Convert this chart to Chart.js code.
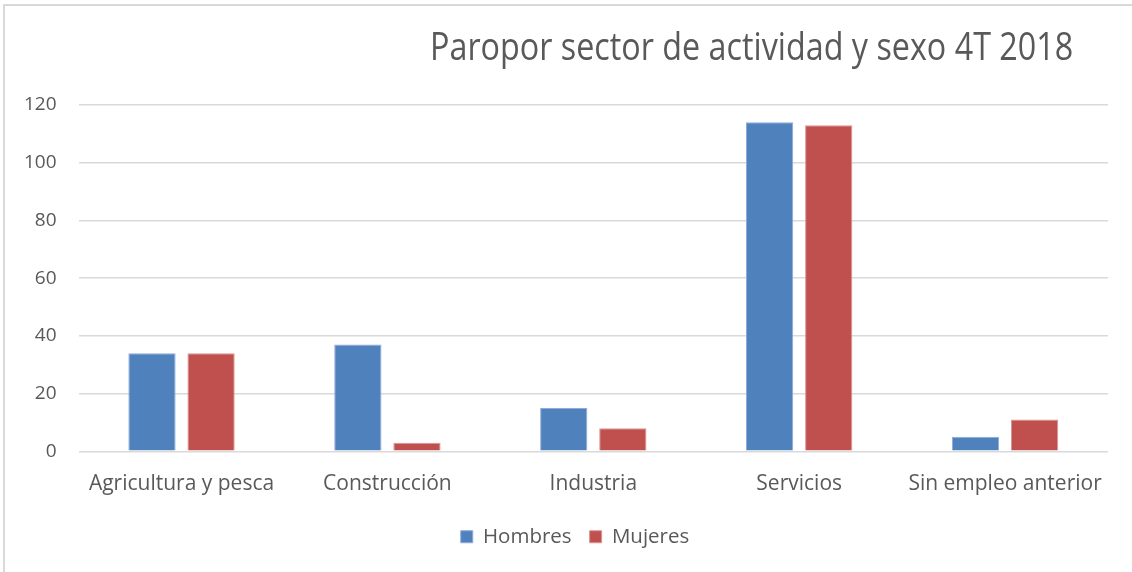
<!DOCTYPE html>
<html lang="es">
<head>
<meta charset="utf-8">
<title>Paro por sector de actividad y sexo 4T 2018</title>
<script src="https://cdn.jsdelivr.net/npm/chart.js@4"></script>
<style>
    html, body {
        margin: 0;
        padding: 0;
        background: #ffffff;
    }
    #contenedor {
        position: relative;
        width: 1132px;
        height: 572px;
        overflow: hidden;
    }
    #marco {
        position: absolute;
        left: 3px;
        top: 4px;
        width: 1140px;
        height: 580px;
        border-left: 2px solid #d9d9d9;
        border-top: 2px solid #d9d9d9;
        pointer-events: none;
    }
    #titulo {
        position: absolute;
        left: 430px;
        top: 19px;
        font-family: "Open Sans", sans-serif;
        font-size: 38px;
        color: #595959;
        white-space: nowrap;
        transform: scaleX(0.85);
        transform-origin: left top;
    }
</style>
</head>
<body>
<div id="contenedor">
    <canvas id="graficoParo" width="1132" height="572"></canvas>
    <div id="marco"></div>
    <div id="titulo">Paropor sector de actividad y sexo 4T 2018</div>
</div>

<script>
// Datos del gráfico
const sectores = ['Agricultura y pesca', 'Construcción', 'Industria', 'Servicios', 'Sin empleo anterior'];
const hombres = [34, 37, 15, 114, 5];
const mujeres = [34, 3, 8, 113, 11];
const ticksEjeY = [0, 20, 40, 60, 80, 100, 120];

const colorTexto = '#595959';
const colorRejilla = '#d9d9d9';

Chart.defaults.font.family = '"Open Sans", sans-serif';
Chart.defaults.font.size = 19;
Chart.defaults.color = colorTexto;

// La leyenda del original está algo desplazada a la derecha
const desplazarLeyenda = {
    id: 'desplazarLeyenda',
    afterLayout(chart) {
        const leyenda = chart.legend;
        leyenda.left += 20;
        leyenda.right += 20;
        leyenda.adjustHitBoxes();
    }
};

// Crear gráfico de barras
const ctx = document.getElementById('graficoParo').getContext('2d');

new Chart(ctx, {
    type: 'bar',
    data: {
        labels: sectores,
        datasets: [
            {
                label: 'Hombres',
                data: hombres,
                backgroundColor: '#4f81bd',
                borderColor: '#8eaad8',
                borderWidth: 1,
                categoryPercentage: 0.574,
                barPercentage: 0.8
            },
            {
                label: 'Mujeres',
                data: mujeres,
                backgroundColor: '#c0504d',
                borderColor: '#d89593',
                borderWidth: 1,
                categoryPercentage: 0.574,
                barPercentage: 0.8
            }
        ]
    },
    options: {
        responsive: false,
        animation: false,
        layout: {
            padding: { top: 105, left: 2, right: 24, bottom: 15 }
        },
        plugins: {
            title: { display: false },
            tooltip: { enabled: false },
            legend: {
                position: 'bottom',
                labels: {
                    boxWidth: 12,
                    boxHeight: 12,
                    padding: 18,
                    font: { size: 20.5 },
                    color: colorTexto
                }
            }
        },
        scales: {
            x: {
                grid: { display: false },
                border: { display: false },
                ticks: {
                    padding: 12,
                    font: { size: 21 },
                    maxRotation: 0
                }
            },
            y: {
                min: 0,
                max: 120,
                afterBuildTicks: function(eje) {
                    eje.ticks = ticksEjeY.map(v => ({ value: v }));
                },
                grid: {
                    color: colorRejilla,
                    lineWidth: 1.5,
                    drawTicks: false
                },
                border: { display: false },
                ticks: {
                    padding: 22,
                    font: { size: 19 }
                }
            }
        }
    },
    plugins: [desplazarLeyenda]
});
</script>
</body>
</html>
